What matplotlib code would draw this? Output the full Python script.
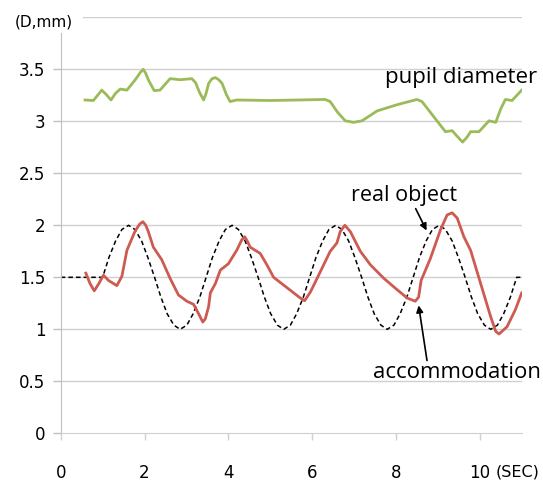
import numpy as np
import matplotlib
matplotlib.use("Agg")
import matplotlib.pyplot as plt

# time axis (SEC) and values (D, mm)
real_t = [0.00, 1.00, 1.15, 1.31, 1.46, 1.62, 1.77, 1.93, 2.08, 2.24, 2.39, 2.54, 2.70, 2.85, 3.01, 3.16, 3.32,
          3.47, 3.62, 3.78, 3.93, 4.09, 4.24, 4.40, 4.55, 4.71, 4.86, 5.01, 5.17, 5.32, 5.48, 5.63, 5.79,
          5.94, 6.09, 6.25, 6.40, 6.56, 6.71, 6.87, 7.02, 7.18, 7.33, 7.48, 7.64, 7.79, 7.95, 8.10, 8.26,
          8.41, 8.56, 8.72, 8.87, 9.03, 9.18, 9.34, 9.49, 9.65, 9.80, 9.95, 10.11, 10.26, 10.42, 10.57, 10.73,
          10.88, 11.00]
real_obj = [1.50, 1.50, 1.69, 1.85, 1.96, 2.00, 1.96, 1.85, 1.69, 1.50, 1.31, 1.15, 1.04, 1.00, 1.04, 1.15, 1.31,
            1.50, 1.69, 1.85, 1.96, 2.00, 1.96, 1.85, 1.69, 1.50, 1.31, 1.15, 1.04, 1.00, 1.04, 1.15, 1.31,
            1.50, 1.69, 1.85, 1.96, 2.00, 1.96, 1.85, 1.69, 1.50, 1.31, 1.15, 1.04, 1.00, 1.04, 1.15, 1.31,
            1.50, 1.69, 1.85, 1.96, 2.00, 1.96, 1.85, 1.69, 1.50, 1.31, 1.15, 1.04, 1.00, 1.04, 1.15, 1.31,
            1.50, 1.50]

acc_t = [0.60, 0.70, 0.80, 0.91, 1.02, 1.14, 1.34, 1.46, 1.58, 1.77, 1.88, 1.96, 2.03, 2.09, 2.21, 2.41, 2.61,
         2.81, 3.01, 3.17, 3.29, 3.39, 3.45, 3.53, 3.57, 3.69, 3.81, 4.00, 4.20, 4.32, 4.39, 4.45, 4.52, 4.76,
         4.92, 5.08, 5.40, 5.72, 5.82, 5.96, 6.19, 6.43, 6.59, 6.67, 6.78, 6.91, 7.15, 7.39, 7.71, 8.03, 8.27,
         8.46, 8.54, 8.60, 8.82, 9.06, 9.22, 9.34, 9.46, 9.62, 9.78, 10.02, 10.26, 10.38, 10.46, 10.65, 10.85, 11.00]
accommodation = [1.54, 1.44, 1.37, 1.44, 1.52, 1.47, 1.42, 1.51, 1.76, 1.94, 2.01, 2.035, 2.00, 1.94, 1.79, 1.67, 1.49,
                 1.33, 1.27, 1.24, 1.15, 1.07, 1.10, 1.22, 1.35, 1.44, 1.57, 1.63, 1.76, 1.86, 1.89, 1.85, 1.79, 1.73,
                 1.62, 1.50, 1.40, 1.30, 1.275, 1.36, 1.55, 1.75, 1.83, 1.94, 2.00, 1.94, 1.75, 1.62, 1.49, 1.38, 1.30,
                 1.27, 1.31, 1.47, 1.68, 1.955, 2.10, 2.12, 2.07, 1.89, 1.76, 1.44, 1.12, 0.98, 0.955, 1.025, 1.19, 1.35]

pupil_t = [0.58, 0.78, 0.88, 0.98, 1.08, 1.20, 1.31, 1.42, 1.58, 1.78, 1.90, 1.97, 2.03, 2.09, 2.23, 2.37, 2.50,
           2.61, 2.85, 3.13, 3.22, 3.31, 3.41, 3.47, 3.53, 3.61, 3.69, 3.77, 3.85, 3.95, 4.04, 4.20, 5.00,
           6.31, 6.43, 6.60, 6.79, 6.99, 7.19, 7.55, 8.03, 8.50, 8.62, 8.90, 9.18, 9.34, 9.45, 9.59, 9.70,
           9.78, 9.98, 10.22, 10.38, 10.50, 10.61, 10.77, 11.00]
pupil = [3.205, 3.20, 3.25, 3.30, 3.26, 3.205, 3.27, 3.31, 3.30, 3.40, 3.47, 3.50, 3.46, 3.40, 3.295, 3.30, 3.36,
         3.41, 3.40, 3.41, 3.37, 3.28, 3.205, 3.27, 3.365, 3.41, 3.42, 3.40, 3.365, 3.26, 3.19, 3.205, 3.20,
         3.21, 3.19, 3.09, 3.005, 2.99, 3.005, 3.10, 3.16, 3.21, 3.19, 3.045, 2.90, 2.91, 2.86, 2.80, 2.85,
         2.90, 2.90, 3.005, 2.99, 3.12, 3.21, 3.20, 3.30]

y_ticks = [0, 0.5, 1, 1.5, 2, 2.5, 3, 3.5]
y_labels = ['0', '0.5', '1', '1.5', '2', '2.5', '3', '3.5']
x_ticks = [0, 2, 4, 6, 8, 10]

plt.rcParams['font.family'] = ['DejaVu Sans']

fig = plt.figure(figsize=(5.43, 4.82), dpi=100)
ax = fig.add_axes([0.1118, 0.1010, 0.8490, 0.8631])

gray = '#bfbfbf'
for yv in y_ticks[1:]:
    ax.axhline(yv, color='#d0d0d0', lw=1.0, zorder=0)
ax.axhline(4, xmin=0.048, color='#d0d0d0', lw=1.0, zorder=0)

ax.plot(real_t, real_obj, color='black', lw=1.1, ls=(0, (3, 2)), zorder=2)
ax.plot(acc_t, accommodation, color='#cd5b52', lw=2.0, solid_joinstyle='round', zorder=3)
ax.plot(pupil_t, pupil, color='#9bbb59', lw=2.0, solid_joinstyle='round', zorder=3)

ax.set_xlim(0, 11)
ax.set_ylim(0, 4)
ax.set_yticks(y_ticks)
ax.set_yticklabels(y_labels)
ax.set_xticks(x_ticks)

for s in ['top', 'right']:
    ax.spines[s].set_visible(False)
ax.spines['left'].set_color(gray)
ax.spines['bottom'].set_color('#d0d0d0')
ax.spines['left'].set_bounds(0, 3.85)
ax.tick_params(axis='y', colors=gray, length=5.5, width=1.0, pad=5.5, labelsize=12, labelcolor='black')
ax.tick_params(axis='x', colors='#d0d0d0', length=4.8, width=1.0, pad=17, labelsize=12, labelcolor='black')

fig.text(44 / 543, 1 - 22 / 482, '(D,mm)', fontsize=11, ha='center', va='center')
fig.text(518 / 543, 1 - 472 / 482, '(SEC)', fontsize=11.5, ha='center', va='center')

ax.text(9.55, 3.42, 'pupil diameter', fontsize=16, family='Open Sans', ha='center', va='center')
ax.text(8.2, 2.29, 'real object', fontsize=15.5, family='Open Sans', ha='center', va='center')
ax.text(9.45, 0.58, 'accommodation', fontsize=16, family='Open Sans', ha='center', va='center')

ax.annotate('', xy=(8.73, 1.95), xytext=(8.47, 2.16),
            arrowprops=dict(arrowstyle='-|>', color='black', lw=1.2, mutation_scale=10,
                            shrinkA=0, shrinkB=0))
ax.annotate('', xy=(8.54, 1.23), xytext=(8.74, 0.70),
            arrowprops=dict(arrowstyle='-|>', color='black', lw=1.2, mutation_scale=10,
                            shrinkA=0, shrinkB=0))

fig.savefig('out.png', dpi=100)
